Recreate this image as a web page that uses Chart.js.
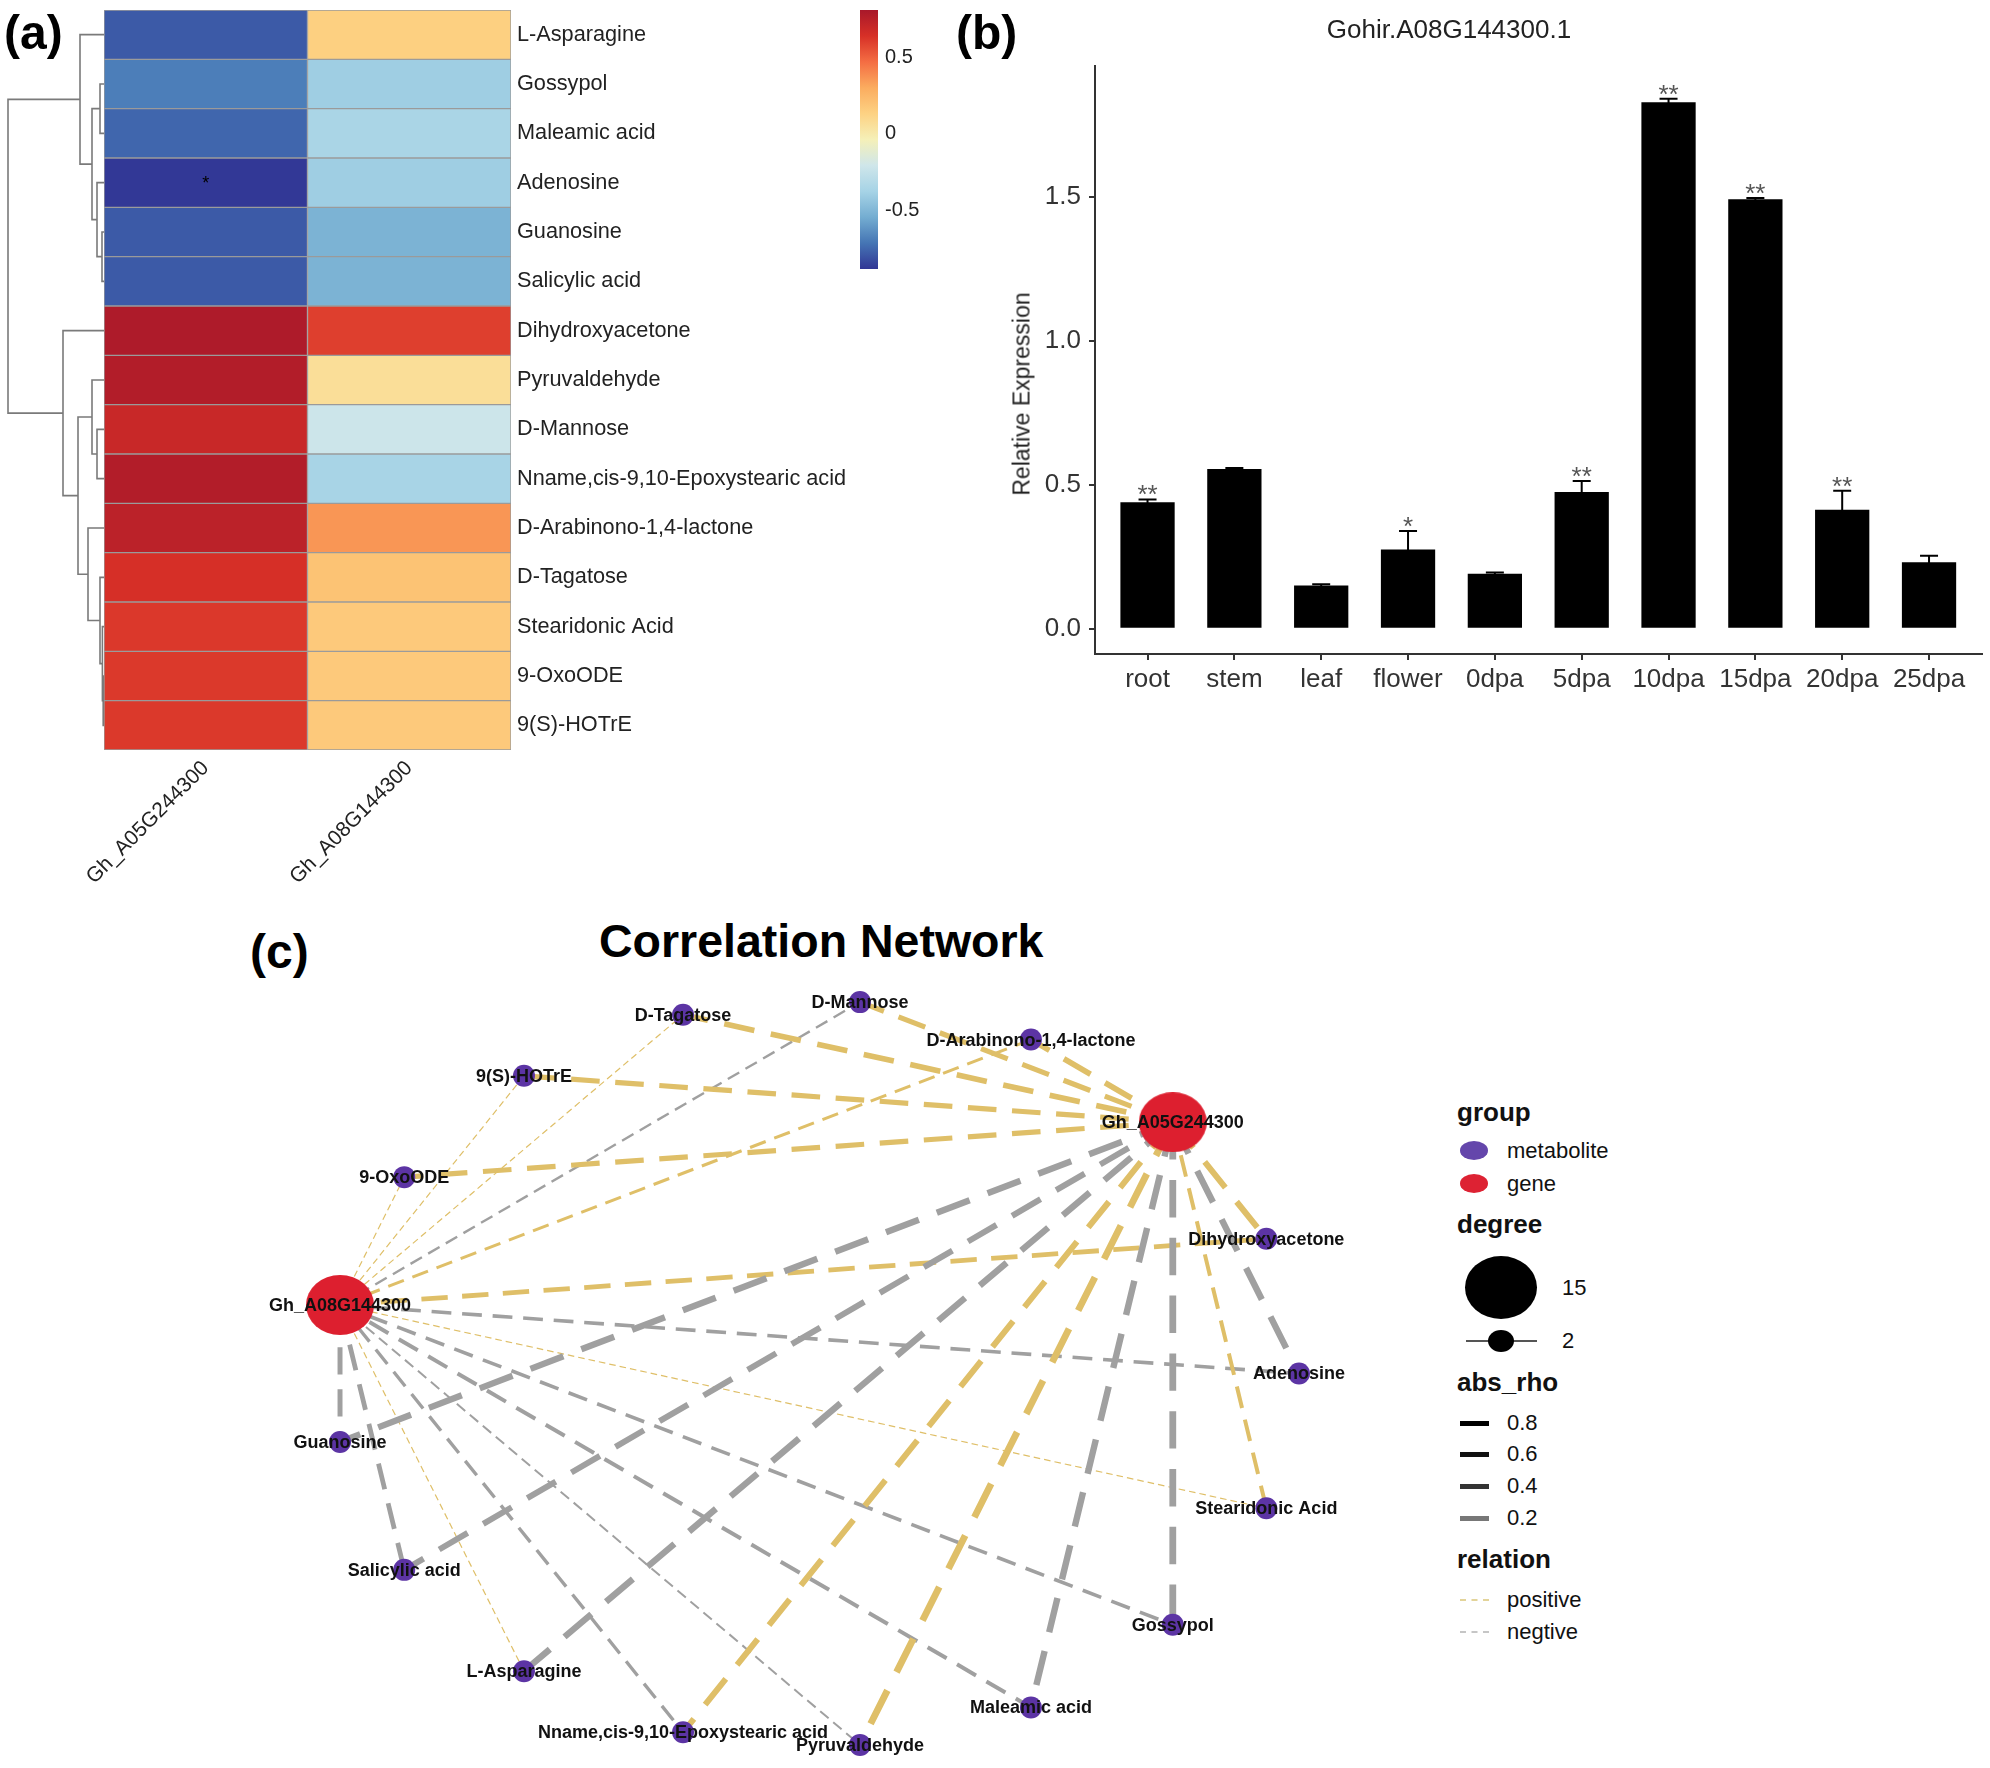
<!DOCTYPE html>
<html>
<head>
<meta charset="utf-8">
<script src="https://cdn.jsdelivr.net/npm/chart.js@4.4.1/dist/chart.umd.min.js"></script>
<style>
  body { margin: 0; background: #fff; width: 1990px; height: 1768px; position: relative; overflow: hidden;
         font-family: "Liberation Sans", Arial, sans-serif; }
  canvas { position: absolute; }
  .t { position: absolute; white-space: nowrap; line-height: 1; color: #111; }
  .b { font-weight: bold; }
  .key { position: absolute; }
</style>
</head>
<body>
<canvas id="dendro" style="left:0;top:0" width="104" height="760"></canvas>
<canvas id="heat" style="left:40px;top:0" width="830" height="900"></canvas>
<canvas id="cbar" style="left:840px;top:0" width="120" height="290"></canvas>
<canvas id="bars" style="left:990px;top:0" width="1000" height="720"></canvas>
<canvas id="net" style="left:150px;top:980px" width="1250" height="788"></canvas>

<div class="t b" style="left:4px;top:9px;font-size:48px;color:#000">(a)</div>
<div class="t b" style="left:956px;top:9px;font-size:48px;color:#000">(b)</div>
<div class="t b" style="left:250px;top:928px;font-size:48px;color:#000">(c)</div>
<div class="t" style="left:1449px;top:16px;font-size:26px;color:#222;transform:translateX(-50%)">Gohir.A08G144300.1</div>
<div class="t" style="left:1022px;top:394px;font-size:23px;color:#222;transform:translate(-50%,-50%) rotate(-90deg)">Relative Expression</div>
<div class="t b" style="left:599px;top:918px;font-size:46.5px;color:#000">Correlation Network</div>

<!-- legend of the network -->
<div class="t b" style="left:1457px;top:1099px;font-size:26px">group</div>
<div class="key" style="left:1460px;top:1141px;width:28px;height:19px;border-radius:50%;background:#6446ab"></div>
<div class="t" style="left:1507px;top:1140px;font-size:22px">metabolite</div>
<div class="key" style="left:1460px;top:1174px;width:28px;height:19px;border-radius:50%;background:#dd2233"></div>
<div class="t" style="left:1507px;top:1173px;font-size:22px">gene</div>
<div class="t b" style="left:1457px;top:1211px;font-size:26px">degree</div>
<div class="key" style="left:1465px;top:1256px;width:72px;height:63px;border-radius:50%;background:#000"></div>
<div class="t" style="left:1562px;top:1277px;font-size:22px">15</div>
<div class="key" style="left:1466px;top:1340px;width:71px;height:2px;background:#555"></div>
<div class="key" style="left:1488px;top:1330px;width:26px;height:22px;border-radius:50%;background:#000"></div>
<div class="t" style="left:1562px;top:1330px;font-size:22px">2</div>
<div class="t b" style="left:1457px;top:1369px;font-size:26px">abs_rho</div>
<div class="key" style="left:1460px;top:1421px;width:29px;height:5px;background:#000"></div>
<div class="t" style="left:1507px;top:1412px;font-size:22px">0.8</div>
<div class="key" style="left:1460px;top:1452px;width:29px;height:5px;background:#111"></div>
<div class="t" style="left:1507px;top:1443px;font-size:22px">0.6</div>
<div class="key" style="left:1460px;top:1484px;width:29px;height:5px;background:#333"></div>
<div class="t" style="left:1507px;top:1475px;font-size:22px">0.4</div>
<div class="key" style="left:1460px;top:1516px;width:29px;height:5px;background:#777"></div>
<div class="t" style="left:1507px;top:1507px;font-size:22px">0.2</div>
<div class="t b" style="left:1457px;top:1546px;font-size:26px">relation</div>
<div class="key" style="left:1460px;top:1599px;width:29px;height:0;border-top:2px dashed #e3d49a"></div>
<div class="t" style="left:1507px;top:1589px;font-size:22px">positive</div>
<div class="key" style="left:1460px;top:1631px;width:29px;height:0;border-top:2px dashed #c6c6c6"></div>
<div class="t" style="left:1507px;top:1621px;font-size:22px">negtive</div>

<script>
// ---- panel (a): heatmap data ----
const metabolites = ['L-Asparagine', 'Gossypol', 'Maleamic acid', 'Adenosine', 'Guanosine', 'Salicylic acid',
  'Dihydroxyacetone', 'Pyruvaldehyde', 'D-Mannose', 'Nname,cis-9,10-Epoxystearic acid',
  'D-Arabinono-1,4-lactone', 'D-Tagatose', 'Stearidonic Acid', '9-OxoODE', '9(S)-HOTrE'];
const genes = ['Gh_A05G244300', 'Gh_A08G144300'];
const rhoA05 = [-0.79, -0.69, -0.757, -0.88, -0.79, -0.79, 0.79, 0.775, 0.695, 0.775, 0.74, 0.645, 0.617, 0.615, 0.615];
const rhoA08 = [0.14, -0.40, -0.36, -0.40, -0.52, -0.52, 0.60, 0.065, -0.22, -0.37, 0.36, 0.20, 0.17, 0.17, 0.17];
const sigA05 = ['', '', '', '*', '', '', '', '', '', '', '', '', '', '', ''];
const sigA08 = ['', '', '', '', '', '', '', '', '', '', '', '', '', '', ''];

// colour key
const cbMin = -0.886, cbMax = 0.81;
const cbTicks = [-0.5, 0, 0.5];
const palette = ['#313695', '#4575b4', '#74add1', '#a6d3e6', '#cfe6ea', '#f5f0b8',
  '#fdd283', '#fbac5f', '#f46d43', '#d73027', '#a8182a'];

// row dendrogram, hclust style: negative = leaf (row number), positive = earlier merge
const dendroMerge = [
  [-5, -6, 2], [-4, 1, 7], [-2, -3, 4], [3, 2, 12], [-1, 4, 24],
  [-14, -15, 0.8], [-13, 6, 1.6], [-12, 7, 4], [-11, 8, 16],
  [-9, -10, 7], [-8, 10, 12], [11, 9, 26], [-7, 12, 41], [5, 13, 96]
];

// ---- panel (b): bar chart data ----
const tissues = ['root', 'stem', 'leaf', 'flower', '0dpa', '5dpa', '10dpa', '15dpa', '20dpa', '25dpa'];
const expr = [0.439, 0.555, 0.150, 0.275, 0.191, 0.475, 1.829, 1.492, 0.413, 0.231];
const exprErr = [0.010, 0.003, 0.004, 0.064, 0.004, 0.038, 0.012, 0.004, 0.066, 0.022];
const exprSig = ['**', '', '', '*', '', '**', '**', '**', '**', ''];
const exprTicks = [0, 0.5, 1.0, 1.5];

// ---- panel (c): network data ----
const nodeNames = metabolites.concat(genes);
const nodeGroup = metabolites.map(() => 'metabolite').concat(['gene', 'gene']);
const nodeX = [-0.6026, 0.7390, 0.4457, 1.0000, -0.9830, -0.8502, 0.9325, 0.0922, 0.0922, -0.2737,
  0.4457, -0.2737, 0.9325, -0.8502, -0.6026, 0.7390, -0.9830];
const nodeY = [-0.7980, -0.6737, -0.8952, 0.0000, -0.1837, -0.5264, 0.3612, -0.9957, 0.9957, -0.9618,
  0.8952, 0.9618, -0.3612, 0.5264, 0.7980, 0.6737, 0.1837];
const netRhoA05 = [-0.8, -0.85, -0.8, -0.8, -0.8, -0.75, 0.75, 0.85, 0.65, 0.75, 0.7, 0.7, 0.5, 0.65, 0.65];
const netRhoA08 = [0.15, -0.45, -0.5, -0.45, -0.62, -0.6, 0.6, -0.25, -0.3, -0.42, 0.38, 0.15, 0.15, 0.15, 0.15];

Chart.defaults.font.family = '"Liberation Sans", Arial, sans-serif';
Chart.defaults.animation = false;
Chart.defaults.responsive = false;
Chart.defaults.devicePixelRatio = 1;
Chart.defaults.layout.autoPadding = false;
Chart.defaults.plugins.legend.display = false;
Chart.defaults.plugins.tooltip.enabled = false;

function hex(c) { return [1, 3, 5].map(i => parseInt(c.substr(i, 2), 16)); }
function colorFor(v) {
  let t = (v - cbMin) / (cbMax - cbMin);
  t = Math.max(0, Math.min(1, t)) * (palette.length - 1);
  const i = Math.min(Math.floor(t), palette.length - 2), f = t - i;
  const a = hex(palette[i]), b = hex(palette[i + 1]);
  return 'rgb(' + a.map((x, k) => Math.round(x + (b[k] - x) * f)).join(',') + ')';
}
// keep the axes from pushing the plot area around
function noPad(s) { s.paddingLeft = 0; s.paddingRight = 0; s.paddingTop = 0; s.paddingBottom = 0; }

// dendrogram polylines from the merge table
function dendroLines() {
  const pos = [], hgt = [], lines = [];
  const where = id => id < 0 ? [-id - 1, 0] : [pos[id - 1], hgt[id - 1]];
  dendroMerge.forEach(([a, b, h]) => {
    const [ya, ha] = where(a), [yb, hb] = where(b);
    lines.push([{x: ha, y: ya}, {x: h, y: ya}, {x: h, y: yb}, {x: hb, y: yb}]);
    pos.push((ya + yb) / 2);
    hgt.push(h);
  });
  return lines;
}

new Chart(document.getElementById('dendro'), {
  type: 'scatter',
  data: {
    datasets: dendroLines().map(pts => ({
      data: pts, showLine: true, borderColor: '#7a7a7a', borderWidth: 1.6, pointRadius: 0, clip: false
    }))
  },
  options: {
    layout: {padding: {left: 8, right: 0, top: 10, bottom: 10}},
    scales: {
      x: {type: 'linear', display: false, min: 0, max: 96, reverse: true},
      y: {type: 'linear', display: false, min: -0.5, max: 14.5, reverse: true}
    }
  }
});

const heatStars = {
  id: 'heatStars',
  afterDatasetsDraw(chart) {
    const ctx = chart.ctx;
    ctx.save();
    ctx.font = '18px "Liberation Sans", Arial';
    ctx.fillStyle = '#000';
    ctx.textAlign = 'center';
    ctx.textBaseline = 'middle';
    [sigA05, sigA08].forEach((sig, j) => {
      chart.getDatasetMeta(j).data.forEach((el, i) => {
        if (sig[i]) ctx.fillText(sig[i], (el.x + el.base) / 2, el.y + 1);
      });
    });
    ctx.restore();
  }
};

new Chart(document.getElementById('heat'), {
  type: 'bar',
  data: {
    labels: metabolites,
    datasets: [rhoA05, rhoA08].map((vals, j) => ({
      label: genes[j],
      data: metabolites.map(() => 1),
      backgroundColor: vals.map(colorFor),
      borderColor: '#9b9b9b',
      borderWidth: 1,
      borderSkipped: false,
      barPercentage: 1,
      categoryPercentage: 1
    }))
  },
  options: {
    indexAxis: 'y',
    layout: {padding: {left: 64, top: 10, right: 0, bottom: 0}},
    scales: {
      x: {
        type: 'linear', stacked: true, min: 0, max: 2,
        grid: {display: false, drawTicks: false}, border: {display: false},
        afterBuildTicks: s => { s.ticks = [{value: 0.5}, {value: 1.5}]; },
        afterFit: s => { s.height = 150; noPad(s); },
        ticks: {autoSkip: false, minRotation: 45, maxRotation: 45, padding: 6, color: '#222',
                font: {size: 21}, callback: (v, i) => genes[i]}
      },
      y: {
        position: 'right', stacked: true,
        grid: {display: false, drawTicks: false}, border: {display: false},
        afterFit: s => { s.width = 359; noPad(s); },
        ticks: {autoSkip: false, padding: 6, color: '#222', font: {size: 21.7}}
      }
    }
  },
  plugins: [heatStars]
});

new Chart(document.getElementById('cbar'), {
  type: 'bar',
  data: {
    labels: [''],
    datasets: [{
      data: [[cbMin, cbMax]],
      borderWidth: 0,
      barPercentage: 1,
      categoryPercentage: 1,
      backgroundColor: c => {
        const chart = c.chart;
        if (!chart.chartArea) return palette[5];
        const y = chart.scales.y;
        const g = chart.ctx.createLinearGradient(0, y.getPixelForValue(cbMin), 0, y.getPixelForValue(cbMax));
        palette.forEach((col, i) => g.addColorStop(i / (palette.length - 1), col));
        return g;
      }
    }]
  },
  options: {
    layout: {padding: {left: 20, top: 10, right: 0, bottom: 21}},
    scales: {
      x: {display: false},
      y: {
        position: 'right', min: cbMin, max: cbMax,
        grid: {display: false, drawTicks: false}, border: {display: false},
        afterBuildTicks: s => { s.ticks = cbTicks.map(v => ({value: v})); },
        afterFit: s => { s.width = 82; noPad(s); },
        ticks: {padding: 7, color: '#222', font: {size: 20}, callback: v => String(v)}
      }
    }
  }
});

const errorBars = {
  id: 'errorBars',
  afterDatasetsDraw(chart) {
    const {ctx, scales: {x, y}} = chart;
    ctx.save();
    ctx.strokeStyle = '#000';
    ctx.lineWidth = 2;
    ctx.font = '26px "Liberation Sans", Arial';
    ctx.fillStyle = '#555';
    ctx.textAlign = 'center';
    ctx.textBaseline = 'alphabetic';
    expr.forEach((v, i) => {
      const px = x.getPixelForValue(i);
      const top = y.getPixelForValue(v + exprErr[i]);
      const bot = y.getPixelForValue(v - exprErr[i]);
      ctx.beginPath();
      ctx.moveTo(px, bot); ctx.lineTo(px, top);
      ctx.moveTo(px - 9, top); ctx.lineTo(px + 9, top);
      ctx.stroke();
      if (exprSig[i]) ctx.fillText(exprSig[i], px, top + 4);
    });
    ctx.restore();
  }
};

new Chart(document.getElementById('bars'), {
  type: 'bar',
  data: {
    datasets: [{
      data: tissues.map((t, i) => ({x: i, y: expr[i]})),
      backgroundColor: '#000',
      barPercentage: 0.625,
      categoryPercentage: 1
    }]
  },
  options: {
    layout: {padding: {left: 0, top: 66, right: 8, bottom: 0}},
    scales: {
      x: {
        type: 'linear', min: -0.605, max: 9.61, offset: false,
        afterBuildTicks: s => { s.ticks = tissues.map((t, i) => ({value: i})); },
        afterFit: s => { s.height = 66; noPad(s); },
        grid: {offset: false, drawOnChartArea: false, drawTicks: true, tickLength: 6, color: '#333', lineWidth: 2},
        border: {display: true, color: '#333', width: 2},
        ticks: {autoSkip: false, minRotation: 0, maxRotation: 0, padding: 4, color: '#333',
                font: {size: 26}, callback: (v, i) => tissues[i]}
      },
      y: {
        min: -0.088, max: 1.955,
        afterBuildTicks: s => { s.ticks = exprTicks.map(v => ({value: v})); },
        afterFit: s => { s.width = 105; noPad(s); },
        grid: {drawOnChartArea: false, drawTicks: true, tickLength: 6, color: '#333', lineWidth: 2},
        border: {display: true, color: '#333', width: 2},
        ticks: {padding: 8, color: '#333', font: {size: 26}, callback: v => v.toFixed(1)}
      }
    }
  },
  plugins: [errorBars]
});

// ---- network ----
const geneEllipse = document.createElement('canvas');
geneEllipse.width = 68; geneEllipse.height = 60;
(() => {
  const g = geneEllipse.getContext('2d');
  g.fillStyle = '#dd1f2f';
  g.beginPath(); g.ellipse(34, 30, 34, 30, 0, 0, Math.PI * 2); g.fill();
})();

const edgeSets = [];
[netRhoA05, netRhoA08].forEach((rhos, j) => {
  const gi = metabolites.length + j;
  rhos.forEach((r, i) => {
    const w = Math.abs(r) * 8;
    edgeSets.push({
      data: [{x: nodeX[gi], y: nodeY[gi]}, {x: nodeX[i], y: nodeY[i]}],
      showLine: true, pointRadius: 0, clip: false,
      borderColor: r > 0 ? '#dfbf68' : '#a0a0a0',
      borderWidth: w,
      borderDash: [Math.max(5, w * 5.5), Math.max(4, w * 3)]
    });
  });
});

const netLabels = {
  id: 'netLabels',
  afterDatasetsDraw(chart) {
    const {ctx, scales: {x, y}} = chart;
    ctx.save();
    ctx.font = 'bold 18px "Liberation Sans", Arial';
    ctx.fillStyle = '#111';
    ctx.textAlign = 'center';
    ctx.textBaseline = 'middle';
    nodeNames.forEach((n, i) => ctx.fillText(n, x.getPixelForValue(nodeX[i]), y.getPixelForValue(nodeY[i]) + 1));
    ctx.restore();
  }
};

new Chart(document.getElementById('net'), {
  type: 'scatter',
  data: {
    datasets: [{
      data: nodeX.map((v, i) => ({x: v, y: nodeY[i]})),
      clip: false,
      pointRadius: nodeGroup.map(g => g === 'gene' ? 33 : 11),
      pointStyle: nodeGroup.map(g => g === 'gene' ? geneEllipse : 'circle'),
      backgroundColor: nodeGroup.map(g => g === 'gene' ? '#dd1f2f' : '#5c34a4'),
      borderWidth: 0
    }].concat(edgeSets)
  },
  options: {
    layout: {padding: {left: 181.8, right: 101, top: 20.5, bottom: 21.5}},
    scales: {
      x: {type: 'linear', display: false, min: -1, max: 1},
      y: {type: 'linear', display: false, min: -1, max: 1}
    }
  },
  plugins: [netLabels]
});
</script>
</body>
</html>
